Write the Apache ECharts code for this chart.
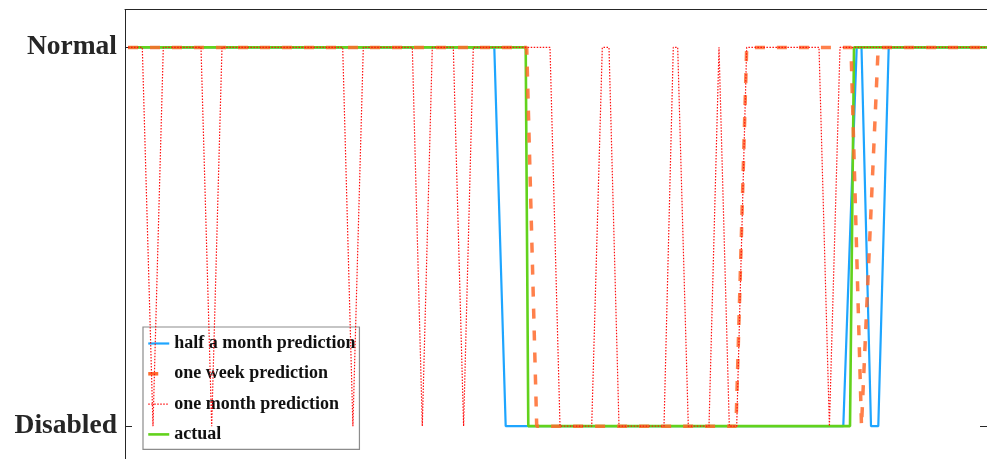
<!DOCTYPE html>
<html>
<head>
<meta charset="utf-8">
<script src="https://cdn.jsdelivr.net/npm/echarts@6/dist/echarts.min.js"></script>
<style>
html,body{margin:0;padding:0;background:#fff;}
#chart{width:987px;height:459px;}
</style>
</head>
<body>
<div id="chart"></div>
<script>
// State categories (value 0 = Disabled, value 1 = Normal)
const stateLabels = ['Disabled', 'Normal'];
const stateValues = [0, 1];

// Time position (arbitrary time units) and state for each series
const halfMonth = [[0.3,1],[36.93,1],[38.07,0],[71.83,0],[73.17,1],[73.65,1],[74.6,0],[75.33,0],[76.37,1],[86.2,1]];
const oneWeek = [[0.3,1],[40.17,1],[41.17,0],[61.1,0],[62.17,1],[72.6,1],[73.65,0],[75.32,1],[86.2,1]];
const oneMonth = [[0.3,1],[1.73,1],[2.8,0],[3.83,1],[7.6,1],[8.67,0],[9.7,1],[21.77,1],[22.79,0],[23.83,1],
  [28.73,1],[29.73,0],[30.73,1],[32.83,1],[33.86,0],[34.83,1],[42.5,1],[43.5,0],[46.67,0],[47.73,1],[48.4,1],
  [49.4,0],[53.9,0],[54.83,1],[55.27,1],[56.33,0],[58.4,0],[59.4,1],[60.43,0],[61.17,0],[62.17,1],[69.4,1],
  [70.44,0],[71.5,1],[86.2,1]];
const actual = [[0.3,1],[40.07,1],[40.33,0],[72.5,0],[72.9,1],[86.2,1]];

const seriesNames = ['half a month prediction', 'one week prediction', 'one month prediction', 'actual'];
const xMin = 0, xMax = 86.2;

const chart = echarts.init(document.getElementById('chart'), null, {renderer: 'canvas'});
const axisColor = '#262626';
const option = {
  animation: false,
  backgroundColor: '#fff',
  grid: {left: 125, right: 0, top: 9.5, bottom: -5, containLabel: false, outerBoundsMode: 'none'},
  legend: {
    left: 143, top: 327,
    orient: 'vertical',
    data: [seriesNames[0], seriesNames[1], seriesNames[2], seriesNames[3]],
    backgroundColor: '#fff',
    borderColor: '#8c8c8c',
    borderWidth: 1.2,
    padding: [7.5, 4, 6, 3.5],
    itemWidth: 21,
    itemHeight: 3,
    itemGap: 12.3,
    itemStyle: {opacity: 0, color: 'transparent', borderColor: 'transparent', borderWidth: 0},
    lineStyle: {width: 'inherit', type: 'inherit', opacity: 1},
    textStyle: {fontFamily: 'Liberation Serif', fontWeight: 'bold', fontSize: 18, color: '#111', lineHeight: 18}
  },
  xAxis: [{
    type: 'value', min: xMin, max: xMax, position: 'bottom',
    axisLine: {show: false, onZero: false}, axisTick: {show: false}, axisLabel: {show: false}, splitLine: {show: false}
  }, {
    type: 'value', min: xMin, max: xMax, position: 'top',
    axisLine: {show: true, onZero: false, lineStyle: {color: axisColor, width: 1}},
    axisTick: {show: false}, axisLabel: {show: false}, splitLine: {show: false}
  }],
  yAxis: [{
    type: 'value', min: -0.1, max: 1.1, position: 'left',
    axisLine: {show: true, onZero: false, lineStyle: {color: axisColor, width: 1}},
    axisTick: {show: true, inside: true, length: 7, customValues: stateValues, lineStyle: {color: axisColor}},
    axisLabel: {
      show: true, customValues: stateValues, margin: 8,
      fontFamily: 'Liberation Serif', fontWeight: 'bold', fontSize: 27.5, color: '#262626',
      formatter: v => stateLabels[Math.round(v)]
    },
    splitLine: {show: false}
  }, {
    type: 'value', min: -0.1, max: 1.1, position: 'right',
    axisLine: {show: false, onZero: false},
    axisTick: {show: true, inside: true, length: 7, customValues: stateValues, lineStyle: {color: axisColor}},
    axisLabel: {show: false}, splitLine: {show: false}
  }],
  series: [{
    name: seriesNames[0], type: 'line', data: halfMonth, showSymbol: false, symbol: 'none', z: 2,
    lineStyle: {color: '#1EA5FF', width: 2.2}, itemStyle: {color: '#1EA5FF'}
  }, {
    name: seriesNames[3], type: 'line', data: actual, showSymbol: false, symbol: 'none', z: 3,
    lineStyle: {color: '#62D21C', width: 2.6}, itemStyle: {color: '#62D21C'}
  }, {
    name: seriesNames[1], type: 'line', data: oneWeek, showSymbol: false, symbol: 'none', z: 4,
    lineStyle: {color: '#FF6A2C', width: 3.5, type: [10, 12], opacity: 0.85}, itemStyle: {color: '#FF6A2C'}
  }, {
    name: seriesNames[2], type: 'line', data: oneMonth, showSymbol: false, symbol: 'none', z: 5,
    lineStyle: {color: '#FF1010', width: 1.2, type: [1.5, 1.5]}, itemStyle: {color: '#FF1010'}
  }]
};
chart.setOption(option);
</script>
</body>
</html>
